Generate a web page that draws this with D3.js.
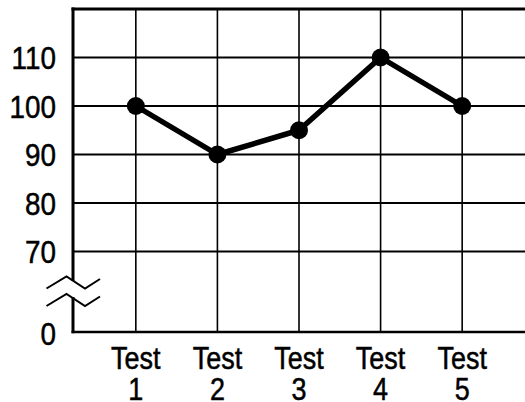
<!DOCTYPE html>
<html>
<head>
<meta charset="utf-8">
<script src="https://cdn.jsdelivr.net/npm/d3@7"></script>
<style>
  html, body { margin: 0; padding: 0; background: #fff; }
  svg { display: block; }
  text { font-family: "Liberation Sans", Arial, sans-serif; fill: #000; stroke: #000; stroke-width: 0.5; }
</style>
</head>
<body>
<svg id="chart" width="525" height="402"></svg>
<script>
const categories = ["Test 1", "Test 2", "Test 3", "Test 4", "Test 5"];
const scores = [100, 90, 95, 110, 100];
const yTicks = [0, 70, 80, 90, 100, 110];
const yDomain = [0, 70, 120];

(function () {
const mLeft = 73, mTop = 9, mBottom = 332, mRight = 525;
const sx = 0.87;

const svg = d3.select("#chart");

const x = d3.scalePoint().domain(categories).range([mLeft, mRight]).padding(0.77);
const y = d3.scaleLinear().domain(yDomain).range([mBottom, mBottom - 80.5, mTop]);

// horizontal grid lines
svg.append("g").selectAll("line")
  .data(yTicks.filter(d => d > 0))
  .join("line")
  .attr("x1", mLeft).attr("x2", mRight)
  .attr("y1", d => y(d)).attr("y2", d => y(d))
  .attr("stroke", "#000").attr("stroke-width", 2);

// vertical grid lines
svg.append("g").selectAll("line")
  .data(categories)
  .join("line")
  .attr("x1", d => x(d)).attr("x2", d => x(d))
  .attr("y1", mTop).attr("y2", mBottom)
  .attr("stroke", "#000").attr("stroke-width", 1.6);

// top border
svg.append("line")
  .attr("x1", mLeft - 1.5).attr("x2", mRight)
  .attr("y1", y(120)).attr("y2", y(120))
  .attr("stroke", "#000").attr("stroke-width", 3);

// bottom axis
svg.append("line")
  .attr("x1", mLeft - 1.5).attr("x2", mRight)
  .attr("y1", mBottom).attr("y2", mBottom)
  .attr("stroke", "#000").attr("stroke-width", 2.5);

// left axis, broken between the zigzags
const breakTop = 281, breakBottom = 297;
svg.append("line")
  .attr("x1", mLeft).attr("x2", mLeft)
  .attr("y1", mTop - 1.5).attr("y2", breakTop)
  .attr("stroke", "#000").attr("stroke-width", 3);
svg.append("line")
  .attr("x1", mLeft).attr("x2", mLeft)
  .attr("y1", breakBottom).attr("y2", mBottom + 1.2)
  .attr("stroke", "#000").attr("stroke-width", 3);

// break symbol
const zig = (dy) => `M46.5,${288.5 + dy} L66.5,${276.5 + dy} L85,${288.5 + dy} L100,${279 + dy}`;
svg.append("path").attr("d", zig(0)).attr("fill", "none").attr("stroke", "#000").attr("stroke-width", 2);
svg.append("path").attr("d", zig(17.5)).attr("fill", "none").attr("stroke", "#000").attr("stroke-width", 2);

// y tick labels
svg.append("g").selectAll("text")
  .data(yTicks)
  .join("text")
  .attr("transform", d => `translate(56,${y(d) + (d === 0 ? 1.5 : 0)}) scale(${sx},1)`)
  .attr("dy", "0.36em")
  .attr("text-anchor", "end")
  .attr("font-size", 32)
  .text(d => d);

// x labels (two lines)
const xl = svg.append("g").selectAll("g")
  .data(categories)
  .join("g")
  .attr("transform", d => `translate(${x(d)},0) scale(${sx},1)`);
xl.append("text").attr("x", 0).attr("y", 369)
  .attr("text-anchor", "middle").attr("font-size", 31)
  .text(d => d.split(" ")[0]);
xl.append("text").attr("x", 0).attr("y", 400)
  .attr("text-anchor", "middle").attr("font-size", 31)
  .text(d => d.split(" ")[1]);

// line
const line = d3.line().x((d, i) => x(categories[i])).y(d => y(d));
svg.append("path")
  .datum(scores)
  .attr("d", line)
  .attr("fill", "none")
  .attr("stroke", "#000")
  .attr("stroke-width", 5.5)
  .attr("stroke-linejoin", "round");

// points
svg.append("g").selectAll("circle")
  .data(scores)
  .join("circle")
  .attr("cx", (d, i) => x(categories[i]))
  .attr("cy", d => y(d))
  .attr("r", 9)
  .attr("fill", "#000");
})();
</script>
</body>
</html>
